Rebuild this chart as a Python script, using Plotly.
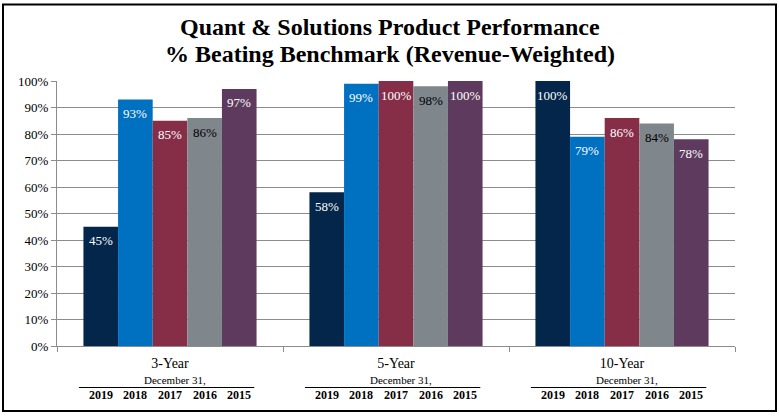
import plotly.graph_objects as go

categories = ["3-Year", "5-Year", "10-Year"]
years = ["2019", "2018", "2017", "2016", "2015"]
values = {
    "2019": [45, 58, 100],
    "2018": [93, 99, 79],
    "2017": [85, 100, 86],
    "2016": [86, 98, 84],
    "2015": [97, 100, 78],
}
colors = {
    "2019": "#03264A",
    "2018": "#0070C0",
    "2017": "#862D48",
    "2016": "#7F868C",
    "2015": "#5E3B5E",
}
label_colors = {
    "2019": "white",
    "2018": "white",
    "2017": "white",
    "2016": "black",
    "2015": "white",
}
y_ticks = list(range(0, 101, 10))
y_tick_text = [f"{v}%" for v in y_ticks]
sub_label = "December 31,"
title_lines = ["Quant & Solutions Product Performance",
               "% Beating Benchmark (Revenue-Weighted)"]

FONT = "Liberation Serif"
W, H = 779, 416
L, R, T, B = 57, 44, 81, 70
pw, ph = W - L - R, H - T - B
bargap = 0.234
AX = "#8C8C8C"


def py(pix):
    """pixel row -> paper y"""
    return (T + ph - pix) / ph


def px(pix):
    """pixel column -> paper x"""
    return (pix - L) / pw


fig = go.Figure()
for y in years:
    fig.add_trace(go.Bar(
        name=y, x=categories, y=values[y],
        marker=dict(color=colors[y], line=dict(width=0)),
        hovertemplate="%{x} " + y + ": %{y}%<extra></extra>",
    ))

annotations = []
shapes = []
bw = (1 - bargap) / len(years)
for i, c in enumerate(categories):
    annotations.append(dict(
        x=i + 0.02, y=py(380), xref="x", yref="paper",
        text=sub_label, showarrow=False, yanchor="middle",
        font=dict(family=FONT, size=11, color="black")))
    shapes.append(dict(
        type="line", xref="x", yref="paper",
        x0=i - (1 - bargap) / 2 - 0.02, x1=i + (1 - bargap) / 2 - 0.01,
        y0=py(387.5), y1=py(387.5),
        line=dict(color="black", width=1.2)))
    for j, y in enumerate(years):
        xo = i + (j - (len(years) - 1) / 2) * bw
        annotations.append(dict(
            x=xo, y=py(395), xref="x", yref="paper",
            text=f"<b>{y}</b>", showarrow=False, yanchor="middle",
            font=dict(family=FONT, size=12, color="black")))
        # value labels inside top of each bar
        annotations.append(dict(
            x=xo, y=values[y][i], xref="x", yref="y",
            text=f"{values[y][i]}%", showarrow=False,
            yanchor="middle", yshift=-14,
            font=dict(family=FONT, size=13, color=label_colors[y])))

# title lines
for line, ypix in zip(title_lines, [27, 54.5]):
    annotations.append(dict(
        x=px(389.5), y=py(ypix), xref="paper", yref="paper",
        text=f"<b>{line}</b>", showarrow=False,
        xanchor="center", yanchor="middle",
        font=dict(family=FONT, size=24, color="black")))

# outer border
shapes.append(dict(
    type="rect", xref="paper", yref="paper",
    x0=px(3), x1=px(776),
    y0=py(411), y1=py(4.5),
    line=dict(color="black", width=2), fillcolor="rgba(0,0,0,0)", layer="below"))

fig.update_layout(
    width=W, height=H,
    margin=dict(l=L, r=R, t=T, b=B, pad=0),
    paper_bgcolor="white", plot_bgcolor="white",
    barmode="group", bargap=bargap, bargroupgap=0,
    showlegend=False,
    font=dict(family=FONT, color="black"),
    xaxis=dict(
        type="category", showgrid=False,
        showline=True, linecolor=AX, linewidth=1,
        ticks="outside", tickson="boundaries", ticklen=5, tickcolor=AX,
        ticklabelstandoff=4,
        tickfont=dict(family=FONT, size=14, color="black"),
        zeroline=False, fixedrange=True,
    ),
    yaxis=dict(
        range=[0, 100], tickvals=y_ticks, ticktext=y_tick_text,
        showgrid=True, gridcolor=AX, gridwidth=1,
        showline=True, linecolor=AX, linewidth=1,
        ticks="outside", ticklen=5, tickcolor=AX,
        tickfont=dict(family=FONT, size=13, color="black"),
        zeroline=False, fixedrange=True,
    ),
    annotations=annotations,
    shapes=shapes,
)

fig.write_html("out.html", config={"displayModeBar": False},
               post_script="document.body.style.margin='0';")
